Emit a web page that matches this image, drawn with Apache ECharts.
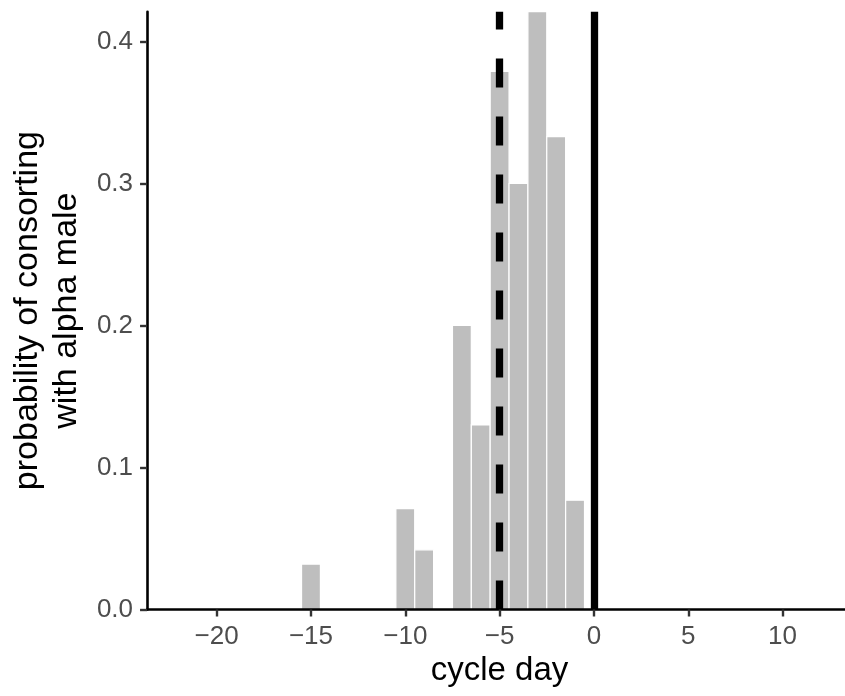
<!DOCTYPE html>
<html>
<head>
<meta charset="utf-8">
<script src="https://cdn.jsdelivr.net/npm/echarts@6/dist/echarts.min.js"></script>
<style>
html,body{margin:0;padding:0;background:#fff;overflow:hidden;width:845px;height:696px;}
#chart{width:852px;height:696px;}
</style>
</head>
<body>
<div id="chart"></div>
<script>
// ---- data ----
const cycleDays = [-15, -10, -9, -7, -6, -5, -4, -3, -2, -1];
const probability = [0.032, 0.071, 0.042, 0.200, 0.130, 0.379, 0.300, 0.440, 0.333, 0.077];
const xTicks = [-20, -15, -10, -5, 0, 5, 10];
const yTicks = [0, 0.1, 0.2, 0.3, 0.4];
const dashedLineDay = -5;
const solidLineDay = 0;
const xLimits = [-23.69, 13.68];
const yLimits = [0, 0.421];
const binWidth = 1;

const FONT = '"Liberation Sans", Arial, Helvetica, sans-serif';
const fmtX = v => (v < 0 ? '\u2212' : '') + Math.abs(v);

const barData = cycleDays.map((d, i) => [d, probability[i]]);

function renderBar(params, api) {
  const x = api.value(0), y = api.value(1);
  const p0 = api.coord([x - binWidth / 2, y]);
  const p1 = api.coord([x + binWidth / 2, 0]);
  const cs = params.coordSys;
  const rect = echarts.graphic.clipRectByRect(
    { x: p0[0], y: p0[1], width: p1[0] - p0[0], height: p1[1] - p0[1] },
    { x: cs.x, y: cs.y, width: cs.width, height: cs.height }
  );
  if (!rect) return;
  return {
    type: 'rect',
    shape: rect,
    style: { fill: '#bebebe', stroke: '#ffffff', lineWidth: 1.2 }
  };
}

const option = {
  animation: false,
  backgroundColor: '#ffffff',
  grid: { left: 143.5, right: 0, top: 11.7, bottom: 86.5, containLabel: false },
  xAxis: {
    type: 'value',
    min: xLimits[0], max: xLimits[1],
    z: 5,
    name: 'cycle day',
    nameLocation: 'middle',
    nameGap: 41,
    nameTextStyle: { fontFamily: FONT, fontSize: 33, color: '#000' },
    axisLine: { show: true, onZero: false, lineStyle: { color: '#000', width: 2.6 } },
    axisTick: { show: true, length: 7, customValues: xTicks, lineStyle: { color: '#333', width: 2.4 } },
    axisLabel: { customValues: xTicks, formatter: fmtX, margin: 14, fontFamily: FONT, fontSize: 26, color: '#4d4d4d' },
    splitLine: { show: false }
  },
  yAxis: {
    type: 'value',
    min: yLimits[0], max: yLimits[1],
    z: 5,
    name: 'probability of consorting\nwith alpha male',
    nameLocation: 'middle',
    nameGap: 42,
    nameRotate: 90,
    nameTextStyle: { fontFamily: FONT, fontSize: 34, color: '#000', lineHeight: 39, align: 'center' },
    axisLine: { show: true, onZero: false, lineStyle: { color: '#000', width: 2.6 } },
    axisTick: { show: true, length: 7, customValues: yTicks, lineStyle: { color: '#333', width: 2.4 } },
    axisLabel: { customValues: yTicks, formatter: v => v.toFixed(1), margin: 14, fontFamily: FONT, fontSize: 26, color: '#4d4d4d' },
    splitLine: { show: false }
  },
  series: [{
    type: 'custom',
    data: barData,
    renderItem: renderBar,
    encode: { x: 0, y: 1 },
    markLine: {
      silent: true,
      symbol: ['none', 'none'],
      label: { show: false },
      data: [
        [
          { coord: [dashedLineDay, yLimits[0]], lineStyle: { color: '#000', width: 7.3, type: [29, 29], cap: 'butt' } },
          { coord: [dashedLineDay, yLimits[1]] }
        ],
        [
          { coord: [solidLineDay, yLimits[0]], lineStyle: { color: '#000', width: 7.3, type: 'solid', cap: 'butt' } },
          { coord: [solidLineDay, yLimits[1]] }
        ]
      ]
    }
  }]
};

const chart = echarts.init(document.getElementById('chart'), null, { renderer: 'canvas' });
chart.setOption(option);
</script>
</body>
</html>
